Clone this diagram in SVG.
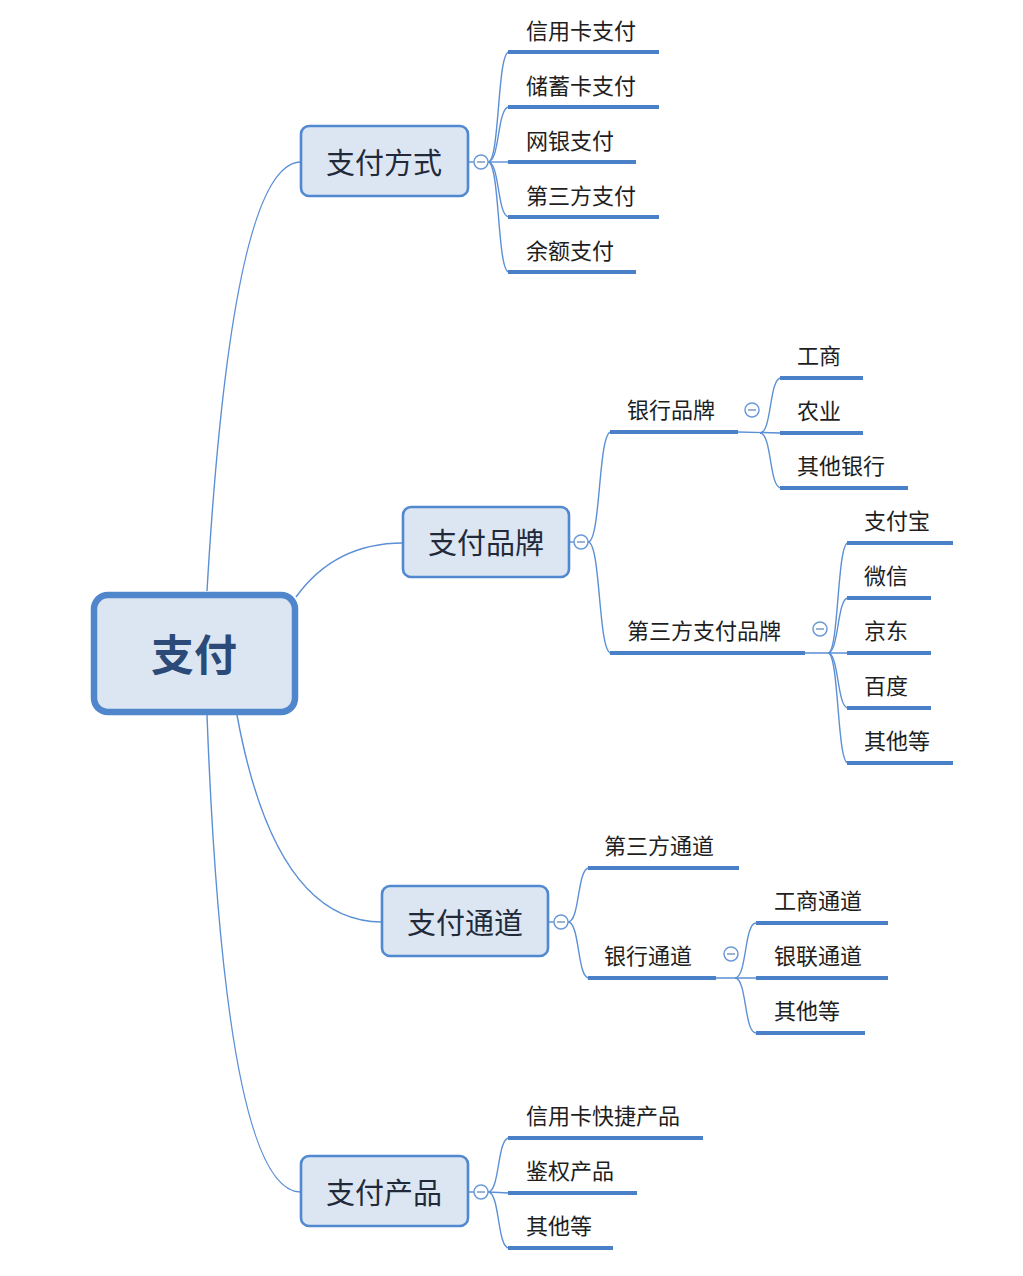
<svg xmlns="http://www.w3.org/2000/svg" width="1023" height="1276" viewBox="0 0 1023 1276">
<style>
.bg{fill:#ffffff}
.conn{fill:none;stroke:#5b8fd6;stroke-width:1.4}
.ul{stroke:#4a80c8;stroke-width:4;stroke-linecap:butt}
.thin{stroke:#5b8fd6;stroke-width:1.4}
.n1{fill:#dce6f2;stroke:#5089d0;stroke-width:2.6}
.root{fill:#dce6f2;stroke:#4f86cc;stroke-width:6.5}
.t1{font-family:"Noto Sans CJK SC","Noto Sans",sans-serif;font-size:29px;fill:#222a3a;text-anchor:middle;dominant-baseline:central}
.t2{font-family:"Noto Sans CJK SC","Noto Sans",sans-serif;font-size:22px;fill:#1e1e1e;dominant-baseline:central}
.tr{font-family:"Noto Sans CJK SC","Noto Sans",sans-serif;font-size:43px;font-weight:bold;fill:#2b4a78;text-anchor:middle;dominant-baseline:central}
.tg circle{fill:#ffffff;stroke:#6a9ad8;stroke-width:1.5}
.tg line{stroke:#7a98c0;stroke-width:1.5}
</style>
<rect class="bg" x="0" y="0" width="1023" height="1276"/>
<g id="connectors">
  <path class="conn" d="M207,591 Q232,162 301,162"/>
  <path class="conn" d="M296,597 Q335,543 403,543"/>
  <path class="conn" d="M237,715 Q275,922 382,922"/>
  <path class="conn" d="M207,715 Q225,1192 301,1192"/>
  <line class="thin" x1="468" y1="162" x2="474" y2="162"/>
  <path class="conn" d="M488,162 C500,162 497,52 509,52"/>
  <path class="conn" d="M488,162 C500,162 497,107 509,107"/>
  <path class="conn" d="M488,162 L509,162"/>
  <path class="conn" d="M488,162 C500,162 497,217 509,217"/>
  <path class="conn" d="M488,162 C500,162 497,272 509,272"/>
  <line class="thin" x1="569" y1="542" x2="575" y2="542"/>
  <path class="conn" d="M588,542 C601,542 598,432 611,432"/>
  <path class="conn" d="M588,542 C601,542 598,653 611,653"/>
  <line class="thin" x1="738" y1="432" x2="781" y2="433"/>
  <path class="conn" d="M760,433 C772,433 769,378 781,378"/>
  <path class="conn" d="M760,433 C772,433 769,488 781,488"/>
  <line class="thin" x1="805" y1="653" x2="848" y2="653"/>
  <path class="conn" d="M828,653 C839,653 837,543 848,543"/>
  <path class="conn" d="M828,653 C839,653 837,598 848,598"/>
  <path class="conn" d="M828,653 C839,653 837,708 848,708"/>
  <path class="conn" d="M828,653 C839,653 837,763 848,763"/>
  <line class="thin" x1="548" y1="922" x2="554" y2="922"/>
  <path class="conn" d="M568,922 C580,922 577,868 589,868"/>
  <path class="conn" d="M568,922 C580,922 577,978 589,978"/>
  <line class="thin" x1="716" y1="978" x2="756" y2="978"/>
  <path class="conn" d="M735,978 C747,978 744,923 756,923"/>
  <path class="conn" d="M735,978 C747,978 744,1033 756,1033"/>
  <line class="thin" x1="468" y1="1192" x2="474" y2="1192"/>
  <path class="conn" d="M488,1192 C500,1192 497,1138 509,1138"/>
  <path class="conn" d="M488,1192 L509,1193"/>
  <path class="conn" d="M488,1192 C500,1192 497,1248 509,1248"/>
</g>
<g id="root">
  <rect class="root" x="94" y="595" width="201" height="117" rx="14"/>
  <text class="tr" x="194" y="652">支付</text>
</g>
<g id="n-fangshi">
  <rect class="n1" x="301" y="126" width="167" height="70" rx="8"/>
  <text class="t1" x="384" y="161">支付方式</text>
  <g class="tg"><circle cx="481" cy="162" r="7"/><line x1="477" y1="162" x2="485" y2="162"/></g>
</g>
<g id="n-xinyongka"><line class="ul" x1="508" y1="52" x2="659" y2="52"/><text class="t2" x="526" y="29">信用卡支付</text></g>
<g id="n-chuxuka"><line class="ul" x1="508" y1="107" x2="659" y2="107"/><text class="t2" x="526" y="84">储蓄卡支付</text></g>
<g id="n-wangyin"><line class="ul" x1="508" y1="162" x2="636" y2="162"/><text class="t2" x="526" y="139">网银支付</text></g>
<g id="n-disanfang"><line class="ul" x1="508" y1="217" x2="659" y2="217"/><text class="t2" x="526" y="194">第三方支付</text></g>
<g id="n-yue"><line class="ul" x1="508" y1="272" x2="636" y2="272"/><text class="t2" x="526" y="249">余额支付</text></g>

<g id="n-pinpai">
  <rect class="n1" x="403" y="507" width="166" height="70" rx="8"/>
  <text class="t1" x="486" y="541">支付品牌</text>
  <g class="tg"><circle cx="581" cy="542" r="7"/><line x1="577" y1="542" x2="585" y2="542"/></g>
</g>
<g id="n-yinhangpinpai">
  <line class="ul" x1="610" y1="432" x2="738" y2="432"/>
  <text class="t2" x="627" y="408">银行品牌</text>
  <g class="tg"><circle cx="752" cy="410" r="7"/><line x1="748" y1="410" x2="756" y2="410"/></g>
</g>
<g id="n-gongshang"><line class="ul" x1="780" y1="378" x2="863" y2="378"/><text class="t2" x="797" y="354">工商</text></g>
<g id="n-nongye"><line class="ul" x1="780" y1="433" x2="863" y2="433"/><text class="t2" x="797" y="409">农业</text></g>
<g id="n-qitayinhang"><line class="ul" x1="780" y1="488" x2="908" y2="488"/><text class="t2" x="797" y="464">其他银行</text></g>
<g id="n-disanfangpinpai">
  <line class="ul" x1="610" y1="653" x2="805" y2="653"/>
  <text class="t2" x="627" y="629">第三方支付品牌</text>
  <g class="tg"><circle cx="820" cy="629" r="7"/><line x1="816" y1="629" x2="824" y2="629"/></g>
</g>
<g id="n-zhifubao"><line class="ul" x1="847" y1="543" x2="953" y2="543"/><text class="t2" x="864" y="519">支付宝</text></g>
<g id="n-weixin"><line class="ul" x1="847" y1="598" x2="931" y2="598"/><text class="t2" x="864" y="574">微信</text></g>
<g id="n-jingdong"><line class="ul" x1="847" y1="653" x2="931" y2="653"/><text class="t2" x="864" y="629">京东</text></g>
<g id="n-baidu"><line class="ul" x1="847" y1="708" x2="931" y2="708"/><text class="t2" x="864" y="684">百度</text></g>
<g id="n-qitadeng1"><line class="ul" x1="847" y1="763" x2="953" y2="763"/><text class="t2" x="864" y="739">其他等</text></g>

<g id="n-tongdao">
  <rect class="n1" x="382" y="886" width="166" height="70" rx="8"/>
  <text class="t1" x="465" y="921">支付通道</text>
  <g class="tg"><circle cx="561" cy="922" r="7"/><line x1="557" y1="922" x2="565" y2="922"/></g>
</g>
<g id="n-disanfangtongdao"><line class="ul" x1="588" y1="868" x2="739" y2="868"/><text class="t2" x="604" y="844">第三方通道</text></g>
<g id="n-yinhangtongdao">
  <line class="ul" x1="588" y1="978" x2="716" y2="978"/>
  <text class="t2" x="604" y="954">银行通道</text>
  <g class="tg"><circle cx="731" cy="954" r="7"/><line x1="727" y1="954" x2="735" y2="954"/></g>
</g>
<g id="n-gongshangtongdao"><line class="ul" x1="756" y1="923" x2="888" y2="923"/><text class="t2" x="774" y="899">工商通道</text></g>
<g id="n-yinliantongdao"><line class="ul" x1="756" y1="978" x2="888" y2="978"/><text class="t2" x="774" y="954">银联通道</text></g>
<g id="n-qitadeng2"><line class="ul" x1="756" y1="1033" x2="865" y2="1033"/><text class="t2" x="774" y="1009">其他等</text></g>

<g id="n-chanpin">
  <rect class="n1" x="301" y="1156" width="167" height="70" rx="8"/>
  <text class="t1" x="384" y="1191">支付产品</text>
  <g class="tg"><circle cx="481" cy="1192" r="7"/><line x1="477" y1="1192" x2="485" y2="1192"/></g>
</g>
<g id="n-kuaijie"><line class="ul" x1="508" y1="1138" x2="703" y2="1138"/><text class="t2" x="526" y="1114">信用卡快捷产品</text></g>
<g id="n-jianquan"><line class="ul" x1="508" y1="1193" x2="637" y2="1193"/><text class="t2" x="526" y="1169">鉴权产品</text></g>
<g id="n-qitadeng3"><line class="ul" x1="508" y1="1248" x2="613" y2="1248"/><text class="t2" x="526" y="1224">其他等</text></g>
</svg>
